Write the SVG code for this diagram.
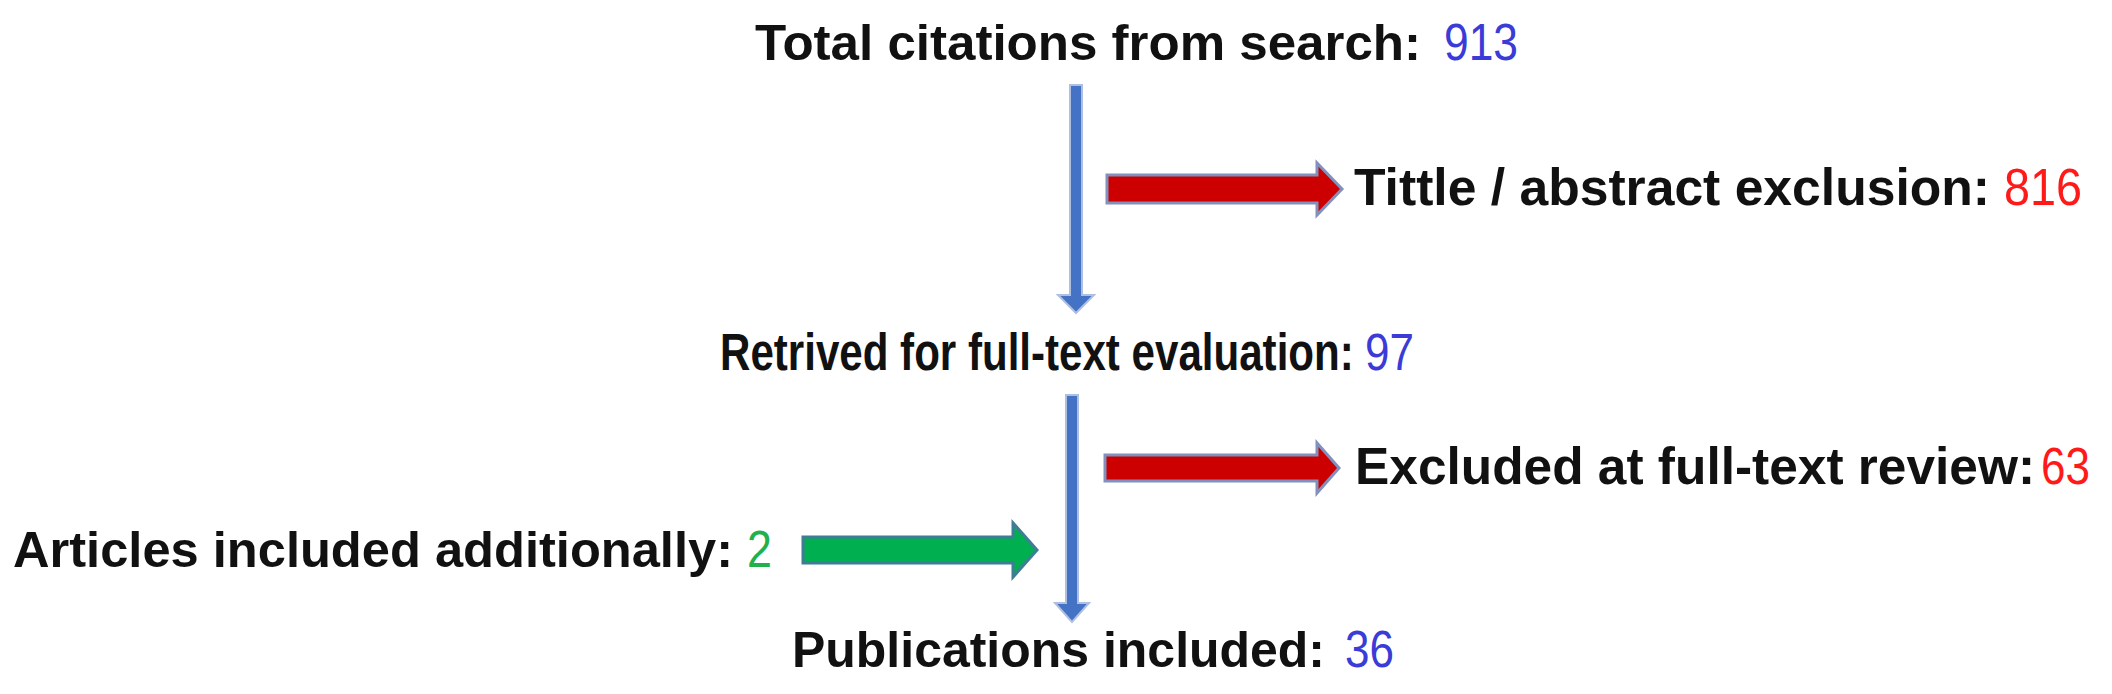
<svg xmlns="http://www.w3.org/2000/svg" width="2112" height="694" viewBox="0 0 2112 694">
<style>
.lbl{font-family:"Liberation Sans",Arial,sans-serif;font-weight:bold;fill:#111111}
.num{font-family:"Liberation Sans",Arial,sans-serif;font-weight:normal;font-size:51px}
.blue{fill:#3b3bd8}
.red{fill:#ff1a1a}
.green{fill:#22b04a}
.down{fill:#4472c4;stroke:#aebfe0;stroke-width:2}
.exc{fill:#cc0000;stroke:#8290bd;stroke-width:3;stroke-linejoin:miter}
.inc{fill:#00b050;stroke:#3f7d95;stroke-width:3;stroke-linejoin:miter}
</style>
<rect width="2112" height="694" fill="#ffffff"/>
<g id="connectors">
<path class="down" d="M1070,85 H1082 V295 H1094 L1076,313 L1058,295 H1070 Z"/>
<path class="down" d="M1066,395 H1078 V603 H1089 L1072,622 L1055,603 H1066 Z"/>
<path class="exc" d="M1107,175 H1317 V163 L1342,189 L1317,215 V203 H1107 Z"/>
<path class="exc" d="M1105,455 H1317 V443 L1339,468 L1317,493 V481 H1105 Z"/>
<path class="inc" d="M803,537 H1013 V523 L1037,550 L1013,577 V563 H803 Z"/>
</g>
<g id="total">
<text class="lbl" x="755" y="60" font-size="50.8" textLength="666" lengthAdjust="spacingAndGlyphs">Total citations from search:</text>
<text class="num blue" x="1444" y="60" textLength="74" lengthAdjust="spacingAndGlyphs">913</text>
</g>
<g id="title-exclusion">
<text class="lbl" x="1354" y="205" font-size="51.5" textLength="636" lengthAdjust="spacingAndGlyphs">Tittle / abstract exclusion:</text>
<text class="num red" x="2004" y="205" textLength="78" lengthAdjust="spacingAndGlyphs">816</text>
</g>
<g id="retrieved">
<text class="lbl" transform="translate(720,370) scale(0.8255,1)" x="0" y="0" font-size="51">Retrived for full-text evaluation:</text>
<text class="num blue" x="1365" y="370" textLength="49" lengthAdjust="spacingAndGlyphs">97</text>
</g>
<g id="fulltext-exclusion">
<text class="lbl" x="1355" y="484" font-size="51.4" textLength="680" lengthAdjust="spacingAndGlyphs">Excluded at full-text review:</text>
<text class="num red" x="2041" y="484" textLength="49" lengthAdjust="spacingAndGlyphs">63</text>
</g>
<g id="additional">
<text class="lbl" x="13" y="567" font-size="50.5" textLength="720" lengthAdjust="spacingAndGlyphs">Articles included additionally:</text>
<text class="num green" x="747" y="567" textLength="25" lengthAdjust="spacingAndGlyphs">2</text>
</g>
<g id="included">
<text class="lbl" x="792" y="667" font-size="50" textLength="533" lengthAdjust="spacingAndGlyphs">Publications included:</text>
<text class="num blue" x="1345" y="667" textLength="49" lengthAdjust="spacingAndGlyphs">36</text>
</g>
</svg>
